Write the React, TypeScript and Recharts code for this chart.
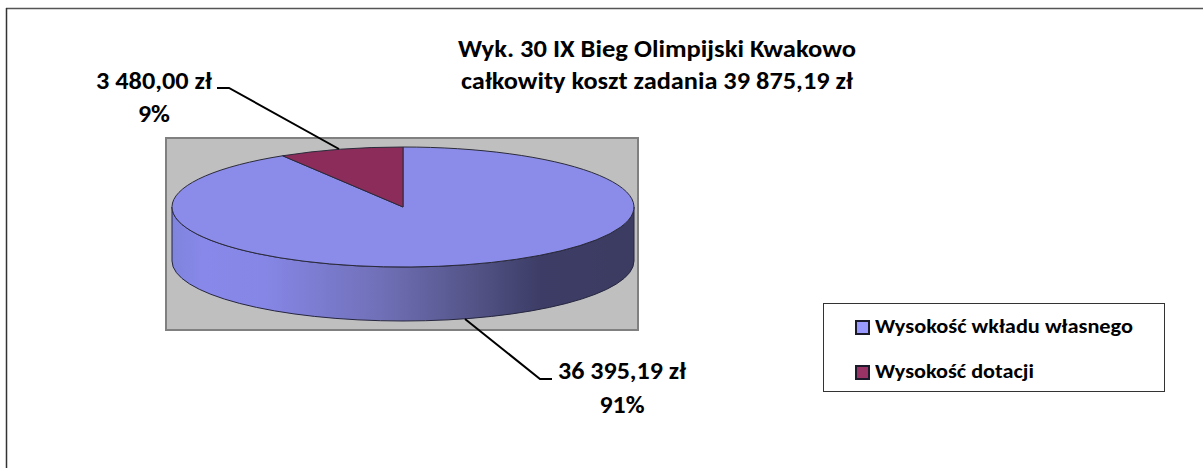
import React from 'react';
import { PieChart, Pie, Legend, Customized } from 'recharts';

const categories = ['Wysokość wkładu własnego', 'Wysokość dotacji'];
const values = [36395.19, 3480.0];
const valueLabels = ['36 395,19 zł', '3 480,00 zł'];
const topColors = ['#8b8cea', '#8b2c5a'];
const legendColors = ['#9999ff', '#993366'];
const titleLines = ['Wyk. 30 IX Bieg Olimpijski Kwakowo', 'całkowity koszt zadania 39 875,19 zł'];

const data = categories.map((name, i) => ({ name, value: values[i] }));

const FONT = 'Carlito, Calibri, Lato, sans-serif';
const W = 1203;
const H = 468;
const CX = 403;
const CY = 207;
const RX = 231;
const RY = 60;
const DEPTH = 54;

const pt = (deg: number) => {
  const a = (deg * Math.PI) / 180;
  return [CX + RX * Math.cos(a), CY - RY * Math.sin(a)];
};

const EllipseSector = (props: any) => {
  const { startAngle, endAngle, index } = props;
  const [x0, y0] = pt(startAngle);
  const [x1, y1] = pt(endAngle);
  const span = Math.abs(endAngle - startAngle);
  const top = `M${CX},${CY} L${x0},${y0} A${RX},${RY} 0 ${span > 180 ? 1 : 0} 1 ${x1},${y1} Z`;
  const side = `M${CX - RX},${CY} A${RX},${RY} 0 0 0 ${CX + RX},${CY} L${CX + RX},${CY + DEPTH} A${RX},${RY} 0 0 1 ${CX - RX},${CY + DEPTH} Z`;
  return (
    <g>
      {index === 0 && <path d={side} fill="url(#sideGrad)" stroke="#26263f" strokeWidth={1} />}
      <path d={top} fill={topColors[index]} stroke="#2a2a3a" strokeWidth={1} />
    </g>
  );
};

const leaderPaths = [
  'M465,319 L540,379 L552,379',
  'M339,149 L229,88 L217,88',
];
const labelAnchors = [
  { x: 622, y1: 379, y2: 413, w1: 128, w2: 45 },
  { x: 154, y1: 89, y2: 122, w1: 116, w2: 32 },
];

const labelStyle = { fontFamily: FONT, fontWeight: 700, fontSize: 24, fill: '#000' };

const renderLabel = (props: any) => {
  const { index, percent } = props;
  const a = labelAnchors[index];
  return (
    <g key={index}>
      <path d={leaderPaths[index]} fill="none" stroke="#000" strokeWidth={2} />
      <text x={a.x} y={a.y1} textAnchor="middle" textLength={a.w1} lengthAdjust="spacingAndGlyphs" style={labelStyle}>{valueLabels[index]}</text>
      <text x={a.x} y={a.y2} textAnchor="middle" textLength={a.w2} lengthAdjust="spacingAndGlyphs" style={labelStyle}>{`${Math.round(percent * 100)}%`}</text>
    </g>
  );
};

const LegendBox = ({ payload }: any) => (
  <div style={{ position: 'relative', width: 342, height: 89, background: '#fff', border: '1px solid #333', boxSizing: 'border-box' }}>
    {(payload || []).map((p: any, i: number) => (
      <div key={p.value} style={{ position: 'absolute', left: 31, top: 11 + i * 45, display: 'flex', alignItems: 'center', height: 24 }}>
        <span style={{ width: 15, height: 15, boxSizing: 'border-box', background: legendColors[i], border: '2px solid #1a1a2a', marginRight: 5 }} />
        <svg width={285} height={24} style={{ display: 'block' }}>
          <text x={0} y={18} textLength={i === 0 ? 258 : 159} lengthAdjust="spacingAndGlyphs" style={{ fontFamily: FONT, fontWeight: 700, fontSize: 20, fill: '#000' }}>{p.value}</text>
        </svg>
      </div>
    ))}
  </div>
);

const Background = () => (
  <g>
    <line x1={6} y1={8.5} x2={W} y2={8.5} stroke="#555" strokeWidth={1.5} />
    <line x1={6.5} y1={8} x2={6.5} y2={H} stroke="#333" strokeWidth={1.5} />
    <rect x={166} y={138} width={472} height={192} fill="#bfbfbf" stroke="#808080" strokeWidth={2} />
    {titleLines.map((t, i) => (
      <text key={t} x={657} y={57 + i * 32} textAnchor="middle" textLength={i === 0 ? 398 : 392} lengthAdjust="spacingAndGlyphs" style={labelStyle}>{t}</text>
    ))}
  </g>
);

export default function App() {
  return (
    <div style={{ position: 'absolute', left: 0, top: 0, width: W, height: H }}>
      <PieChart width={W} height={H} margin={{ top: 0, right: 0, bottom: 0, left: 0 }}>
        <defs>
          <linearGradient id="sideGrad" x1="0" y1="0" x2="1" y2="0">
            <stop offset="0" stopColor="#7f84dc" />
            <stop offset="0.07" stopColor="#8888ea" />
            <stop offset="0.2" stopColor="#8686e6" />
            <stop offset="0.45" stopColor="#7070b8" />
            <stop offset="0.65" stopColor="#545488" />
            <stop offset="0.8" stopColor="#3c3c66" />
            <stop offset="1" stopColor="#3c3c62" />
          </linearGradient>
        </defs>
        <Customized component={Background} />
        <Pie
          data={data}
          dataKey="value"
          nameKey="name"
          cx={CX}
          cy={CY}
          outerRadius={RX}
          startAngle={90}
          endAngle={-270}
          paddingAngle={0}
          isAnimationActive={false}
          shape={EllipseSector}
          label={renderLabel}
          labelLine={false}
          legendType="square"
        />
        <Legend
          layout="vertical"
          itemSorter={null as any}
          content={LegendBox as any}
          wrapperStyle={{ position: 'absolute', left: 823, top: 303, width: 342, height: 89, bottom: 'auto', right: 'auto' }}
        />
      </PieChart>
    </div>
  );
}
